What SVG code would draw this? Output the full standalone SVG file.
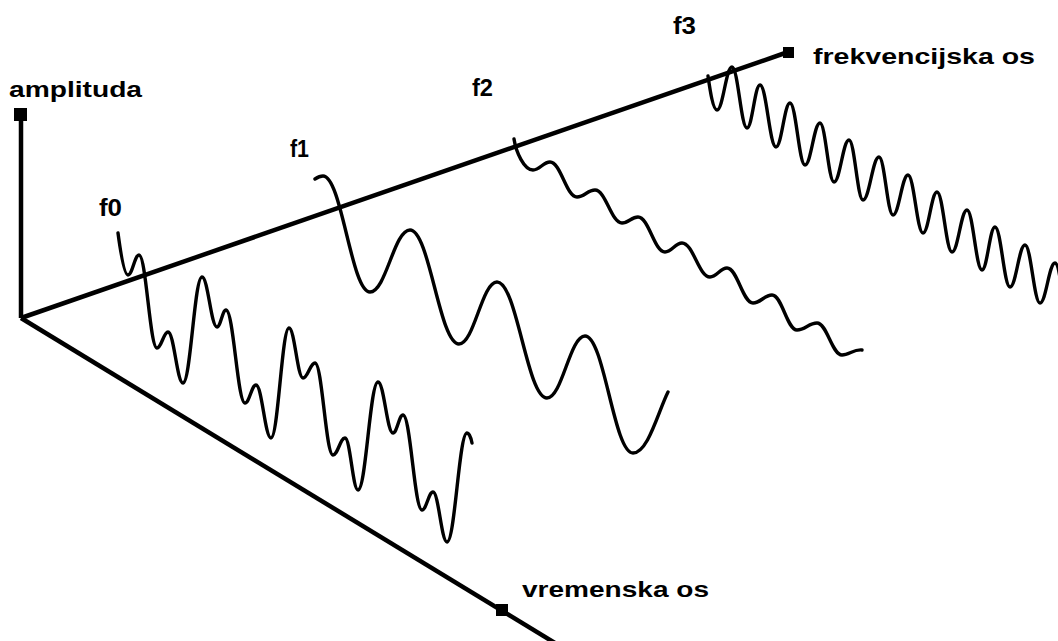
<svg xmlns="http://www.w3.org/2000/svg" width="1058" height="641" viewBox="0 0 1058 641">
<style>
.ax{stroke:#000;stroke-width:4.5;fill:none;stroke-linecap:butt}
.wv{stroke:#000;stroke-width:3.4;fill:none;stroke-linejoin:round;stroke-linecap:round}
.lbl{font-family:"Liberation Sans",Arial,sans-serif;font-weight:bold;font-size:22px;fill:#000}
.fl{font-family:"Liberation Sans",Arial,sans-serif;font-weight:bold;font-size:24px;fill:#000}
</style>
<rect width="1058" height="641" fill="#fff"/>
<g id="axes">
<line class="ax" x1="21" y1="318" x2="21" y2="114"/>
<rect x="14" y="108" width="13" height="13" fill="#000"/>
<line class="ax" x1="21" y1="318" x2="788" y2="52"/>
<rect x="783" y="47" width="11" height="11" fill="#000"/>
<line class="ax" x1="21" y1="318" x2="555" y2="643"/>
<rect x="496" y="604" width="12" height="12" fill="#000"/>
</g>
<g id="wave-f0">
<path class="wv" d="M118,233 C120,248 124,275 128,275 C132.4,275 134.6,255 139,255 C146.2,255 149.8,348 157,348 C161.4,348 163.6,332 168,332 C174,332 177,383 183,383 C190.6,383 194.4,277 202,277 C208,277 211,327 217,327 C220.6,327 222.4,310 226,310 C233.6,310 237.4,403 245,403 C249.4,403 251.6,385 256,385 C262,385 265,438 271,438 C278.2,438 281.8,328 289,328 C294.6,328 297.4,378 303,378 C307.8,378 310.2,363 315,363 C322.2,363 325.8,455 333,455 C337.8,455 340.2,438 345,438 C350.2,438 352.8,490 358,490 C366,490 370,382 378,382 C384,382 387,433 393,433 C397,433 399,415 403,415 C410.6,415 414.4,510 422,510 C426.4,510 428.6,492 433,492 C438.6,492 441.4,542 447,542 C455,542 459,433 467,433 C469,433 471,438 472,443"/>
</g>
<g id="wave-f1">
<path class="wv" d="M315,179 C318,177 320,176 323,176 C341.8,176 351.2,292 370,292 C386,292 394,230 410,230 C429.6,230 439.4,344 459,344 C474.2,344 481.8,282 497,282 C517,282 527,398 547,398 C562.2,398 569.8,336 585,336 C604.2,336 613.8,453 633,453 C648,453 658,412 668,392"/>
</g>
<g id="wave-f2">
<path class="wv" d="M514,139 C516,152 524,170 533,170 C539.8,170 543.2,162 550,162 C560.8,162 566.2,197 577,197 C584.2,197 587.8,190 595,190 C605.8,190 611.2,223 622,223 C628.4,223 631.6,217 638,217 C648.8,217 654.2,252 665,252 C671.8,252 675.2,243 682,243 C693.2,243 698.8,277 710,277 C716.8,277 720.2,268 727,268 C737.4,268 742.6,303 753,303 C760.6,303 764.4,295 772,295 C782,295 787,330 797,330 C805,330 809,323 817,323 C827,323 832,355 842,355 C849,355 854,349 862,350"/>
</g>
<g id="wave-f3">
<path class="wv" d="M708,76 C710,90 713,110 717,110 C723,110 726,67 732,67 C738,67 741,128 747,128 C752.2,128 754.8,85 760,85 C766.4,85 769.6,147 776,147 C781.6,147 784.4,103 790,103 C796,103 799,165 805,165 C811,165 814,123 820,123 C825.6,123 828.4,182 834,182 C840,182 843,140 849,140 C854.6,140 857.4,200 863,200 C869.4,200 872.6,157 879,157 C884.6,157 887.4,215 893,215 C899,215 902,175 908,175 C914,175 917,233 923,233 C928.6,233 931.4,192 937,192 C943,192 946,252 952,252 C958,252 961,210 967,210 C973,210 976,270 982,270 C987.2,270 989.8,227 995,227 C1001,227 1004,287 1010,287 C1016,287 1019,245 1025,245 C1031,245 1034,303 1040,303 C1046,303 1049,263 1055,263 C1061,263 1064,323 1070,323"/>
</g>
<g id="labels">
<text class="lbl" x="9" y="97" textLength="133" lengthAdjust="spacingAndGlyphs">amplituda</text>
<text class="lbl" x="813" y="64" textLength="222" lengthAdjust="spacingAndGlyphs">frekvencijska os</text>
<text class="lbl" x="522" y="597" textLength="187" lengthAdjust="spacingAndGlyphs">vremenska os</text>
<text class="fl" x="99" y="216" textLength="23" lengthAdjust="spacingAndGlyphs">f0</text>
<text class="fl" x="290" y="157" textLength="19" lengthAdjust="spacingAndGlyphs">f1</text>
<text class="fl" x="472" y="96" textLength="21" lengthAdjust="spacingAndGlyphs">f2</text>
<text class="fl" x="673" y="34" textLength="23" lengthAdjust="spacingAndGlyphs">f3</text>
</g>
</svg>
